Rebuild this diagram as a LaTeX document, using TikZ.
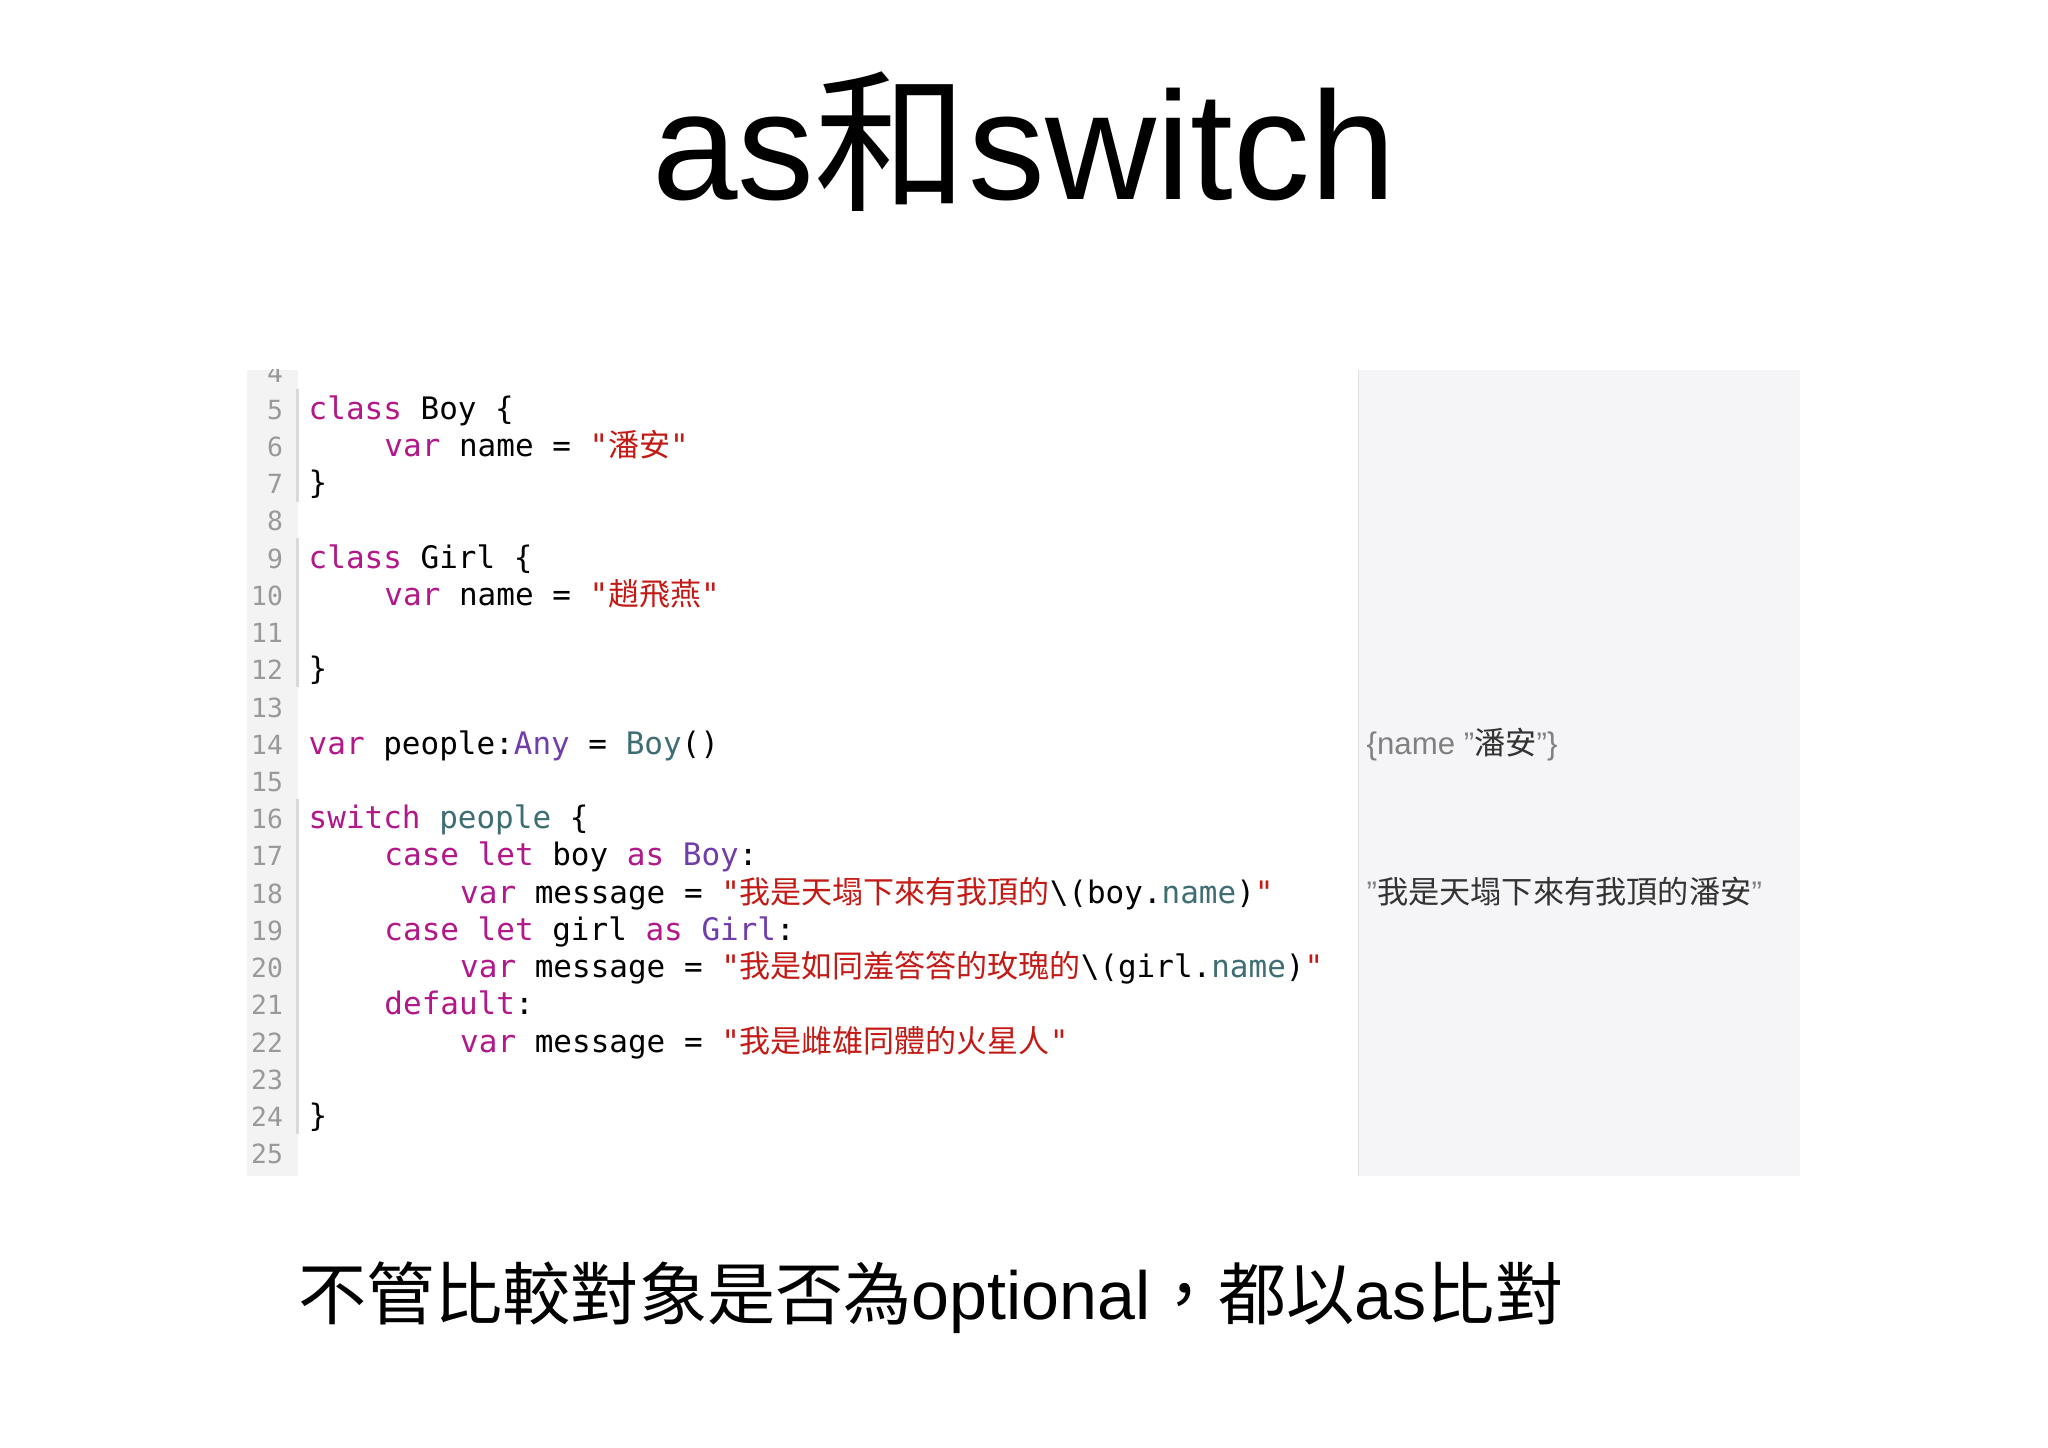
\documentclass[tikz,border=0pt]{standalone}
\usepackage{fontspec}
\setmainfont{Liberation Sans}
\setmonofont{DejaVu Sans Mono}
\newfontfamily\cjk{Noto Sans CJK TC}
\definecolor{kw}{HTML}{B21889}
\definecolor{ty}{HTML}{703DAA}
\definecolor{fn}{HTML}{3E6D74}
\definecolor{st}{HTML}{C41A16}
\definecolor{gut}{HTML}{F3F3F3}
\definecolor{res}{HTML}{F5F5F7}
\newcommand\kw[1]{\textcolor{kw}{#1}}
\newcommand\ty[1]{\textcolor{ty}{#1}}
\newcommand\fn[1]{\textcolor{fn}{#1}}
\newcommand\st[1]{\textcolor{st}{#1}}
\newcommand\zh[1]{{\cjk #1}}
\begin{document}
\begin{tikzpicture}[x=0.02cm,y=-0.02cm,
  code/.style={anchor=base west,inner sep=0,font=\ttfamily\fontsize{13.5}{16}\selectfont},
  lnum/.style={anchor=base east,inner sep=0,text=gray!80,font=\ttfamily\fontsize{11.5}{14}\selectfont}]
\useasboundingbox (0,0) rectangle (1568,1108);
\fill[white] (0,0) rectangle (1568,1108);
\node[anchor=base,inner sep=0,font=\fontsize{67}{72}\selectfont] (title) at (784,153) {as\zh{和}switch};
\fill[gut] (189,283) rectangle (228,900);
\fill[res] (1040,283) rectangle (1378,900);
\draw[gray!25] (1040,283) -- (1040,900);
\draw[gray!30,line width=1.2] (228,298) -- (228,384) (228,412) -- (228,526) (228,612) -- (228,868);
\begin{scope}
\clip (189,283) rectangle (228,900);
\foreach \n in {4,...,25} {\node[lnum] at (217,{321+(\n-5)*28.5}) {\n};}
\end{scope}
\def\Y#1{{321+(#1-5)*28.5}}
\node[code] (l5) at (236,\Y{5}) {\kw{class} Boy \{};
\node[code] (l6) at (294,\Y{6}) {\kw{var} name = \st{"\zh{潘安}"}};
\node[code] (l7) at (236,\Y{7}) {\}};
\node[code] (l9) at (236,\Y{9}) {\kw{class} Girl \{};
\node[code] (l10) at (294,\Y{10}) {\kw{var} name = \st{"\zh{趙飛燕}"}};
\node[code] (l12) at (236,\Y{12}) {\}};
\node[code] (l14) at (236,\Y{14}) {\kw{var} people:\ty{Any} = \fn{Boy}()};
\node[code] (l16) at (236,\Y{16}) {\kw{switch} \fn{people} \{};
\node[code] (l17) at (294,\Y{17}) {\kw{case} \kw{let} boy \kw{as} \ty{Boy}:};
\node[code] (l18) at (352,\Y{18}) {\kw{var} message = \st{"\zh{我是天塌下來有我頂的}}\textbackslash(boy.\fn{name})\st{"}};
\node[code] (l19) at (294,\Y{19}) {\kw{case} \kw{let} girl \kw{as} \ty{Girl}:};
\node[code] (l20) at (352,\Y{20}) {\kw{var} message = \st{"\zh{我是如同羞答答的玫瑰的}}\textbackslash(girl.\fn{name})\st{"}};
\node[code] (l21) at (294,\Y{21}) {\kw{default}:};
\node[code] (l22) at (352,\Y{22}) {\kw{var} message = \st{"\zh{我是雌雄同體的火星人}"}};
\node[code] (l24) at (236,\Y{24}) {\}};
\node[anchor=base west,inner sep=0,font=\fontsize{13.6}{16}\selectfont,text=gray] (r14) at (1046,\Y{14}) {\{name "\textcolor{black!80}{\zh{潘安}}"\}};
\node[anchor=base west,inner sep=0,font=\fontsize{13.6}{16}\selectfont,text=gray] (r18) at (1046,\Y{18}) {"\textcolor{black!80}{\zh{我是天塌下來有我頂的潘安}}"};
\node[anchor=base west,inner sep=0,font=\fontsize{29.7}{32}\selectfont] (cap) at (228,1010) {\zh{不管比較對象是否為}optional\zh{，都以}as\zh{比對}};
\end{tikzpicture}
\end{document}
